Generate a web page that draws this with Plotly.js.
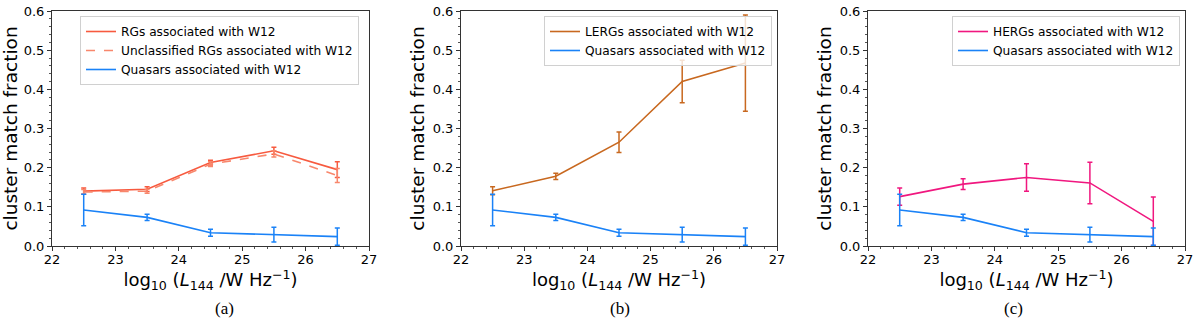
<!DOCTYPE html>
<html>
<head>
<meta charset="utf-8">
<script src="https://cdn.plot.ly/plotly-3.0.1.min.js"></script>
<style>body{margin:0;background:#fff}</style>
</head>
<body>
<div id="chart" style="width:1200px;height:335px"></div>
<script>
// luminosity bins (log10 L144)
let lum = [22.5, 23.5, 24.5, 25.5, 26.5];

// quasars (same in all panels)
let qsoFrac = [0.092, 0.073, 0.034, 0.029, 0.024];
let qsoErr = [0.040, 0.008, 0.009, 0.019, 0.022];

// panel (a)
let rgFrac = [0.140, 0.145, 0.213, 0.243, 0.195];
let rgErr = [0.008, 0.006, 0.006, 0.009, 0.020];
let uncFrac = [0.138, 0.140, 0.209, 0.235, 0.180];
let uncErr = [0.006, 0.005, 0.006, 0.008, 0.018];

// panel (b)
let lergFrac = [0.141, 0.178, 0.265, 0.420, 0.467];
let lergErr = [0.010, 0.008, 0.026, 0.054, 0.123];

// panel (c)
let hergFrac = [0.126, 0.158, 0.175, 0.161, 0.063];
let hergErr = [0.022, 0.014, 0.035, 0.053, 0.062];

let captions = ["(a)", "(b)", "(c)"];

function series(name, y, err, color, xa, ya, leg, dash) {
  return {
    x: lum, y: y, name: name, type: "scatter", mode: "lines",
    xaxis: xa, yaxis: ya, legend: leg,
    line: {color: color, width: 1.6, dash: dash || "solid"},
    error_y: {type: "data", array: err, visible: true, color: color, thickness: 1.5, width: 2.5}
  };
}

let red = "#f75a3f", salmon = "#f8876c", blue = "#1a82f7", brown = "#c8681f", pink = "#f0177f";

let traces = [
  series("RGs associated with W12", rgFrac, rgErr, red, "x", "y", "legend"),
  series("Unclassified RGs associated with W12", uncFrac, uncErr, salmon, "x", "y", "legend", "dash"),
  series("Quasars associated with W12", qsoFrac, qsoErr, blue, "x", "y", "legend"),
  series("LERGs associated with W12", lergFrac, lergErr, brown, "x2", "y2", "legend2"),
  series("Quasars associated with W12", qsoFrac, qsoErr, blue, "x2", "y2", "legend2"),
  series("HERGs associated with W12", hergFrac, hergErr, pink, "x3", "y3", "legend3"),
  series("Quasars associated with W12", qsoFrac, qsoErr, blue, "x3", "y3", "legend3")
];

let W = 1200, H = 335;
let xDoms = [[52, 369], [461, 777], [868, 1185]];
let yDom = [1 - 246 / H, 1 - 11 / H];
let font = {family: "DejaVu Sans, sans-serif", color: "#000"};

function xaxis(px, anchor) {
  return {
    domain: [px[0] / W, px[1] / W], anchor: anchor, range: [22, 27], dtick: 1,
    showgrid: false, zeroline: false, showline: true, mirror: true, linecolor: "#333", linewidth: 1,
    ticks: "outside", ticklen: 4, tickcolor: "#333", ticklabelstandoff: -3,
    minor: {dtick: 0.2, ticks: "outside", ticklen: 2, tickcolor: "#555"},
    tickfont: {family: font.family, size: 13, color: "#000"},
    title: {text: "log<sub>10</sub> (<i>L</i><sub>144</sub> /W Hz<sup>−1</sup>)", font: {family: font.family, size: 18, color: "#000"}, standoff: 2}
  };
}
function yaxis(anchor) {
  return {
    domain: yDom, anchor: anchor, range: [0, 0.6], dtick: 0.1, tickformat: ".1f",
    showgrid: false, zeroline: false, showline: true, mirror: true, linecolor: "#333", linewidth: 1,
    ticks: "outside", ticklen: 4, tickcolor: "#333",
    minor: {dtick: 0.02, ticks: "outside", ticklen: 2, tickcolor: "#555"},
    tickfont: {family: font.family, size: 13, color: "#000"},
    title: {text: "cluster match fraction", font: {family: font.family, size: 18.5, color: "#000"}, standoff: 3}
  };
}
function legend(xr, yt) {
  return {
    x: xr / W, y: 1 - yt / H, xanchor: "right", yanchor: "top",
    bgcolor: "rgba(255,255,255,0.8)", bordercolor: "#d0d0d0", borderwidth: 1,
    font: {family: font.family, size: 12.2, color: "#000"}, tracegroupgap: 0, itemwidth: 30
  };
}

let layout = {
  width: W, height: H, showlegend: true,
  margin: {l: 0, r: 0, t: 0, b: 0},
  paper_bgcolor: "#fff", plot_bgcolor: "#fff", font: font,
  xaxis: xaxis(xDoms[0], "y"), yaxis: yaxis("x"),
  xaxis2: xaxis(xDoms[1], "y2"), yaxis2: yaxis("x2"),
  xaxis3: xaxis(xDoms[2], "y3"), yaxis3: yaxis("x3"),
  legend: legend(359, 16), legend2: legend(772, 16), legend3: legend(1180, 16),
  annotations: captions.map((c, i) => ({
    text: c, xref: "paper", yref: "paper", x: [213, 620, 1025][i] / W, y: 1 - 320 / H,
    showarrow: false, font: {family: "Liberation Serif, serif", size: 17, color: "#000"}
  }))
};

Plotly.newPlot("chart", traces, layout, {staticPlot: true});
</script>
</body>
</html>
